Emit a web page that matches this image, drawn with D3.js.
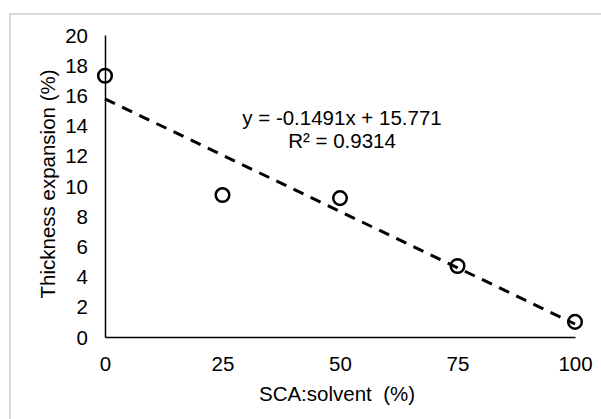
<!DOCTYPE html>
<head>
  <meta charset="utf-8">
  <script src="https://d3js.org/d3.v7.min.js"></script>
  <style>
    body { margin: 0; background: #fff; }
    text { font-family: "Liberation Sans", Arial, sans-serif; fill: #000; }
  </style>
</head>
<body>
  <div id="chart"></div>
  <script>
    var ratios = [0, 25, 50, 75, 100];
    var expansion = [17.3, 9.4, 9.2, 4.7, 1.0];
    var xTicks = [0, 25, 50, 75, 100];
    var yTicks = [0, 2, 4, 6, 8, 10, 12, 14, 16, 18, 20];
    var slope = -0.1491, intercept = 15.771;
    var eqLines = ["y = -0.1491x + 15.771", "R\u00b2 = 0.9314"];

    var width = 601, height = 419;
    var fs = "20.5px";

    var svg = d3.select("#chart").append("svg")
      .attr("width", width)
      .attr("height", height);

    // chart border (cut off at right/bottom like the source)
    svg.append("rect")
      .attr("x", 10).attr("y", 14)
      .attr("width", 600).attr("height", 420)
      .attr("fill", "none")
      .attr("stroke", "#d9d9d9")
      .attr("stroke-width", 2);

    var x = d3.scaleLinear().domain([0, 100]).range([105, 575]);
    var y = d3.scaleLinear().domain([0, 20]).range([337, 35]);

    var yAxis = svg.append("g")
      .attr("transform", "translate(105,0)")
      .call(d3.axisLeft(y).tickValues(yTicks).tickSize(0).tickPadding(17));
    yAxis.select(".domain").attr("stroke", "#000").attr("stroke-width", 1.5);
    yAxis.selectAll("text").style("font-size", fs)
      .attr("font-family", null).attr("dy", "0.35em");

    var xAxis = svg.append("g")
      .attr("transform", "translate(0,337)")
      .call(d3.axisBottom(x).tickValues(xTicks).tickSize(0).tickPadding(19));
    xAxis.select(".domain").attr("stroke", "#000").attr("stroke-width", 1.5);
    xAxis.selectAll("text").style("font-size", fs).attr("font-family", null);

    // trendline
    svg.append("line")
      .attr("x1", x(0)).attr("y1", y(intercept))
      .attr("x2", x(100)).attr("y2", y(intercept + slope * 100))
      .attr("stroke", "#000")
      .attr("stroke-width", 3)
      .attr("stroke-dasharray", "11,8");

    svg.selectAll(".pt")
      .data(ratios)
      .enter().append("circle")
      .attr("class", "pt")
      .attr("cx", function(d) { return x(d); })
      .attr("cy", function(d, i) { return y(expansion[i]); })
      .attr("r", 6.8)
      .attr("fill", "none")
      .attr("stroke", "#000")
      .attr("stroke-width", 2.5);

    svg.selectAll(".eq")
      .data(eqLines)
      .enter().append("text")
      .attr("class", "eq")
      .attr("x", 342)
      .attr("y", function(d, i) { return 125 + i * 23; })
      .attr("text-anchor", "middle")
      .style("font-size", fs)
      .text(function(d) { return d; });

    svg.append("text")
      .attr("x", 337).attr("y", 401)
      .attr("text-anchor", "middle")
      .style("font-size", fs)
      .style("white-space", "pre")
      .text("SCA:solvent  (%)");

    svg.append("text")
      .attr("transform", "translate(55,184) rotate(-90)")
      .attr("text-anchor", "middle")
      .style("font-size", fs)
      .text("Thickness expansion (%)");
  </script>
</body>
